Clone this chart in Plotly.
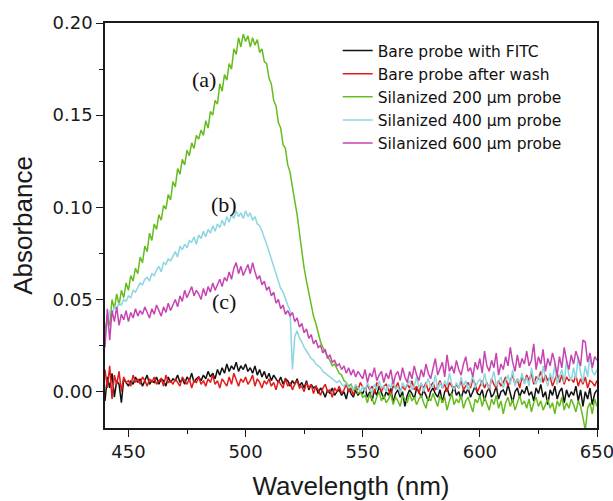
import plotly.graph_objects as go

# Wavelength grid (nm), 1 nm steps
wavelength = list(range(440, 651))

# Absorbance spectra, in milli-absorbance units (mAU)
bare_fitc_mAU = [
    -5, 8, 2, 10, -3, 6, 4, -6, 7, 5,
    3, 6, 4, 8, 5, 7, 3, 6, 9, 4,
    6, 5, 8, 4, 7, 6, 3, 8, 5, 7,
    6, 9, 5, 7, 4, 8, 6, 10, 5, 7,
    8, 6, 9, 7, 11, 8, 10, 7, 12, 9,
    13, 10, 15, 11, 14, 12, 16, 11, 14, 12,
    15, 11, 13, 10, 14, 9, 12, 8, 11, 7,
    10, 6, 9, 7, 5, 8, 4, 7, 6, 3,
    6, 4, 7, 3, 5, 2, 6, 1, 4, 2,
    3, -1, 2, 0, -3, 1, -1, 2, -2, 0,
    1, -2, 0, -4, 2, -1, -3, 1, -2, 0,
    -1, 2, -3, 0, -5, 1, -2, 3, -1, -4,
    0, -2, 2, -6, -1, 1, -3, 0, -8, -2,
    1, -1, -4, 2, 0, -3, 1, -2, -5, 0,
    2, -1, -3, 1, -6, 0, 2, -2, -1, 3,
    -2, 0, -4, 1, -1, 2, -3, 0, 3, -1,
    -2, 1, -5, 0, 2, -3, -1, 3, -4, 0,
    1, -2, 4, -1, -6, 0, 2, -3, 1, -1,
    3, -2, 0, -5, 2, -1, 4, -3, 0, -7,
    1, -2, 3, -4, 0, 2, -6, 1, -3, 0,
    -2, 3, -5, 1, -8, 0, -4, 2, -7, -1,
    1,
]

bare_wash_mAU = [
    12, 2, 14, -4, 9, 4, 11, 0, 8, 5,
    6, 3, 9, 5, 7, 4, 8, 6, 3, 7,
    5, 8, 4, 6, 7, 3, 9, 5, 6, 4,
    7, 5, 3, 8, 6, 4, 7, 2, 6, 5,
    8, 4, 6, 3, 7, 5, 9, 4, 6, 2,
    7, 5, 3, 8, 4, 10, 6, 3, 7, 5,
    8, 4, 6, 9, 3, 7, 5, 2, 6, 4,
    7, 3, 5, 1, 6, 4, 2, 7, 3, 5,
    1, 4, 6, 2, 3, 0, 5, 2, 4, -1,
    3, 1, -2, 2, 4, 0, 1, -3, 2, 0,
    3, -1, 1, 4, 0, 2, -2, 3, 1, 5,
    2, 0, 4, 1, 3, -1, 5, 2, 0, 3,
    4, 1, -2, 3, 2, 5, 0, 3, 1, 4,
    2, 6, 1, 3, -1, 4, 2, 5, 0, 3,
    5, 1, 3, 6, 2, 4, 0, 5, 3, 1,
    4, 2, 6, 1, 3, 5, 2, 7, 4, 0,
    3, 6, 2, 5, 1, 7, 4, 2, 6, 3,
    5, 8, 3, 6, 9, 4, 7, 2, 8, 5,
    9, 6, 10, 4, 8, 7, 11, 5, 9, 6,
    8, 3, 7, 10, 5, 9, 4, 8, 6, 7,
    5, 9, 3, 7, 4, 8, 2, 6, 5, 3,
    6,
]

sil_200_mAU = [
    33, 40, 36, 50, 45, 53, 47, 55, 51, 59,
    55, 63, 60, 67, 64, 73, 70, 79, 76, 86,
    82, 91, 88, 96, 93, 101, 99, 107, 104, 114,
    111, 121, 118, 126, 123, 131, 128, 135, 132, 139,
    137, 142, 139, 147, 143, 152, 150, 158, 156, 167,
    163, 172, 169, 178, 175, 186, 183, 192, 187, 194,
    190, 193, 187, 192, 188, 191, 184, 186, 179, 178,
    170, 167, 158, 155, 146, 143, 134, 132, 123, 119,
    111, 104, 96, 86, 76, 67, 60, 53, 47, 41,
    37, 32, 27, 24, 21, 19, 17, 14, 15, 12,
    10, 9, 6, 5, 3, 4, 1, 2, -1, 0,
    -3,
    -2, -6, -1, -4, -7, -3, 0, -5, -2, -6,
    -4, -1, -7, -3, -5, -8, -2, -4, -6, -1,
    -5, -3, -7, -4, -2, -6, -9, -3, -5, -1,
    -4, -8, -2, -6, -3, -10, -5, -1, -7, -4,
    -6, -2, -9, -5, -3, -7, -11, -4, -6, -2,
    -8, -3, -6, -10, -4, -7, -2, -9, -5, -12,
    -6, -3, -8, -4, -10, -6, -2, -7, -5, -9,
    -4, -11, -6, -3, -8, -5, -10, -7, -4, -9,
    -6, -12, -5, -8, -3, -10, -6, -9, -4, -7,
    -11, -5, -8, -14, -21, -9, -6, -12, -4, -8,
]

sil_400_mAU = [
    30, 38, 44, 42, 46, 45, 48, 47, 50, 49,
    52, 51, 55, 54, 57, 59, 58, 61, 62, 60,
    64, 63, 66, 68, 65, 70, 69, 72, 71, 74,
    76, 73, 79, 77, 80, 78, 82, 81, 84, 80,
    85, 83, 87, 84, 88, 86, 90, 87, 91, 89,
    93, 90, 95, 92, 96, 94, 98, 95, 97, 94,
    98, 95, 97, 93, 95, 91, 90, 87, 84, 80,
    76, 72, 67, 63, 60, 56, 54, 50, 47, 44,
    12, 30, 33, 29, 27, 24, 22, 20, 18, 17,
    15, 14, 13, 11, 10, 9, 8, 7, 6, 5,
    6, 4, 3, 5, 2, 3, 1, 4, 2, 0,
    3, 0, 5, 2, -1, 4, 1, 6, 2, 3,
    0, 4, 2, 7, 1, 3, -1, 5, 2, 4,
    6, 1, 3, 8, 2, 5, 0, 4, 7, 2,
    3, 9, 1, 5, 2, 6, 3, 10, 4, 1,
    5, 2, 8, 3, 6, 1, 4, 9, 2, 5,
    7, 3, 10, 4, 2, 6, 11, 3, 5, 8,
    2, 6, 9, 4, 12, 3, 7, 5, 10, 4,
    8, 3, 13, 6, 4, 9, 5, 14, 7, 3,
    10, 6, 15, 4, 8, 12, 5, 17, 9, 6,
    13, 7, 19, 10, 5, 14, 8, 20, 11, 9,
    12,
]

sil_600_mAU = [
    24, 45, 28, 44, 38, 46, 36, 42, 39, 44,
    38, 43, 40, 45, 41, 44, 42, 46, 43, 40,
    45, 42, 47, 44, 41, 46, 43, 48, 44, 47,
    50, 46, 52, 49, 55, 51, 54, 57, 52, 55,
    53, 50, 56, 52, 57, 54, 59, 55, 58, 61,
    57, 62, 60, 65, 61, 67, 70, 64, 68, 63,
    66, 69, 64, 70, 65, 61, 63, 58, 60, 55,
    57, 52, 54, 48, 50, 45, 47, 42, 44, 41,
    43, 38, 40, 35, 37, 32, 34, 29, 31, 26,
    28, 24, 25, 21, 23, 18, 20, 16, 17, 14,
    15, 12, 14, 10, 13, 9, 12, 8, 11, 9,
    7, 12, 5, 10, 8, 13, 6, 9, 11, 5,
    10, 7, 12, 4, 9, 11, 6, 13, 8, 5,
    11, 7, 14, 9, 6, 12, 8, 15, 10, 7,
    13, 18, 9, 12, 16, 8, 20, 11, 14, 10,
    17, 12, 9, 15, 19, 11, 13, 8, 16, 12,
    18, 10, 22, 14, 11, 17, 13, 21, 9, 15,
    12, 19, 14, 24, 16, 11, 20, 13, 18, 15,
    22, 14, 17, 26, 12, 19, 15, 23, 11, 18,
    14, 21, 16, 9, 19, 13, 24, 17, 12, 20,
    15, 22, 18, 14, 28, 27, 16, 21, 13, 19,
    17,
]

series_names = [
    "Bare probe with FITC",
    "Bare probe after wash",
    "Silanized 200 \u03bcm probe",
    "Silanized 400 \u03bcm probe",
    "Silanized 600 \u03bcm probe",
]
series_mAU = [bare_fitc_mAU, bare_wash_mAU, sil_200_mAU, sil_400_mAU, sil_600_mAU]
series_colors = ["#111111", "#E31A1A", "#66BC1E", "#8CD6E0", "#C644B2"]

# Curve labels: text, wavelength, absorbance
curve_labels = ["(a)", "(b)", "(c)"]
label_x = [482.3, 490.8, 490.8]
label_y = [0.1695, 0.1015, 0.0490]

fig = go.Figure()
for name, vals, color in zip(series_names, series_mAU, series_colors):
    if len(vals) != len(wavelength):
        raise ValueError(f"{name}: {len(vals)} values for {len(wavelength)} wavelengths")
    fig.add_trace(go.Scatter(
        x=wavelength,
        y=[v / 1000 for v in vals],
        mode="lines",
        name=name,
        line=dict(color=color, width=1.5),
    ))

for txt, lx, ly in zip(curve_labels, label_x, label_y):
    fig.add_annotation(
        x=lx, y=ly, text=txt, showarrow=False,
        font=dict(family="Liberation Serif", size=22, color="#111111"),
    )

axis_common = dict(
    showline=True, linecolor="#1a1a1a", linewidth=1.6, mirror=True,
    ticks="outside", ticklen=7, tickwidth=1.4, tickcolor="#1a1a1a",
    showgrid=False, zeroline=False, automargin=False,
    ticklabeloverflow="allow",
    tickfont=dict(family="DejaVu Sans", size=18, color="#1a1a1a"),
    title_font=dict(family="Liberation Sans", size=26, color="#1a1a1a"),
)

fig.update_xaxes(
    range=[440, 650], tick0=450, dtick=50,
    minor=dict(dtick=25, ticks="outside", ticklen=4, tickwidth=1.4, tickcolor="#1a1a1a"),
    title_text="Wavelength (nm)", title_standoff=18,
    **axis_common,
)
fig.update_yaxes(
    range=[-0.0197, 0.20], tick0=0, dtick=0.05, tickformat=".2f",
    minor=dict(dtick=0.025, ticks="outside", ticklen=4, tickwidth=1.4, tickcolor="#1a1a1a"),
    title_text="Absorbance", title_standoff=12,
    **axis_common,
)

fig.update_layout(
    width=613, height=501,
    margin=dict(l=105, r=16, t=23, b=73),
    plot_bgcolor="white", paper_bgcolor="white",
    legend=dict(
        x=0.473, y=0.973, xanchor="left", yanchor="top",
        bgcolor="rgba(255,255,255,0)", borderwidth=0,
        font=dict(family="DejaVu Sans", size=15.5, color="#111111"),
        tracegroupgap=0,
    ),
)

fig.write_html("out.html")
